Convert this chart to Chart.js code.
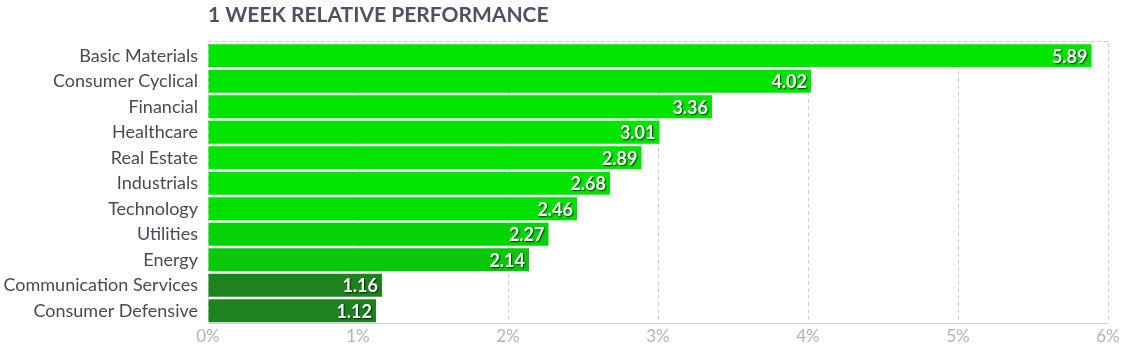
<!DOCTYPE html>
<html>
<head>
<meta charset="utf-8">
<script src="https://cdn.jsdelivr.net/npm/chart.js@4"></script>
<style>
  html, body { margin: 0; padding: 0; background: #fff; }
  #wrap { width: 1135px; height: 354px; }
</style>
</head>
<body>
<div id="wrap"><canvas id="perfChart"></canvas></div>
<script>
// Sector data
const sectors = [
  "Basic Materials", "Consumer Cyclical", "Financial", "Healthcare",
  "Real Estate", "Industrials", "Technology", "Utilities", "Energy",
  "Communication Services", "Consumer Defensive"
];
const weekChange = [5.89, 4.02, 3.36, 3.01, 2.89, 2.68, 2.46, 2.27, 2.14, 1.16, 1.12];
const xTicks = [0, 1, 2, 3, 4, 5, 6];

const barColors = [
  "#00e400", "#00e400", "#00e400", "#00e400", "#00e400", "#00e400",
  "#00e000", "#04d404", "#09c809", "#1e821e", "#1e821e"
];

// Title + top border + value labels
const extras = {
  id: "extras",
  afterDraw(chart) {
    const { ctx, chartArea } = chart;
    ctx.save();
    // title
    ctx.font = "bold 21px Lato";
    ctx.fillStyle = "#4b5262";
    ctx.textAlign = "left";
    ctx.textBaseline = "middle";
    ctx.fillText("1 WEEK RELATIVE PERFORMANCE", chartArea.left, 15);

    // dashed top line
    ctx.strokeStyle = "#d0d0d0";
    ctx.lineWidth = 1;
    ctx.setLineDash([4, 3]);
    ctx.beginPath();
    ctx.moveTo(chartArea.left, Math.round(chartArea.top) - 1.5);
    ctx.lineTo(chartArea.right, Math.round(chartArea.top) - 1.5);
    ctx.stroke();
    ctx.setLineDash([]);

    // values inside bar ends
    const meta = chart.getDatasetMeta(0);
    ctx.font = "bold 18px Lato";
    ctx.textAlign = "right";
    ctx.textBaseline = "middle";
    ctx.shadowColor = "rgba(0,0,0,0.75)";
    ctx.shadowBlur = 1.5;
    ctx.shadowOffsetX = 1;
    ctx.shadowOffsetY = 1;
    ctx.fillStyle = "#fff";
    meta.data.forEach((bar, i) => {
      ctx.fillText(weekChange[i].toFixed(2), bar.x - 4, bar.y + 1);
    });
    ctx.restore();
  }
};

new Chart(document.getElementById("perfChart"), {
  type: "bar",
  data: {
    labels: sectors,
    datasets: [{
      data: weekChange,
      backgroundColor: barColors,
      borderWidth: 0,
      barPercentage: 0.9,
      categoryPercentage: 1.0
    }]
  },
  options: {
    indexAxis: "y",
    responsive: true,
    maintainAspectRatio: false,
    animation: false,
    layout: { padding: { top: 43, right: 27, bottom: 4, left: 0 } },
    plugins: {
      legend: { display: false },
      tooltip: { enabled: false }
    },
    scales: {
      x: {
        min: 0,
        max: 6,
        afterBuildTicks: (axis) => { axis.ticks = xTicks.map((v) => ({ value: v })); },
        grid: { color: "#d0d0d0", drawTicks: false },
        border: { display: true, color: "#d0d0d0", dash: [4, 3] },
        ticks: {
          padding: 3,
          color: "#b4b4b4",
          font: { family: "Lato", size: 17 },
          callback: (v) => v + "%"
        }
      },
      y: {
        grid: { display: false, drawTicks: false },
        border: { display: false },
        afterFit: (axis) => { axis.width = 208; },
        ticks: {
          padding: 10,
          color: "#454b57",
          font: { family: "Lato", size: 18 }
        }
      }
    }
  },
  plugins: [extras]
});
</script>
</body>
</html>
